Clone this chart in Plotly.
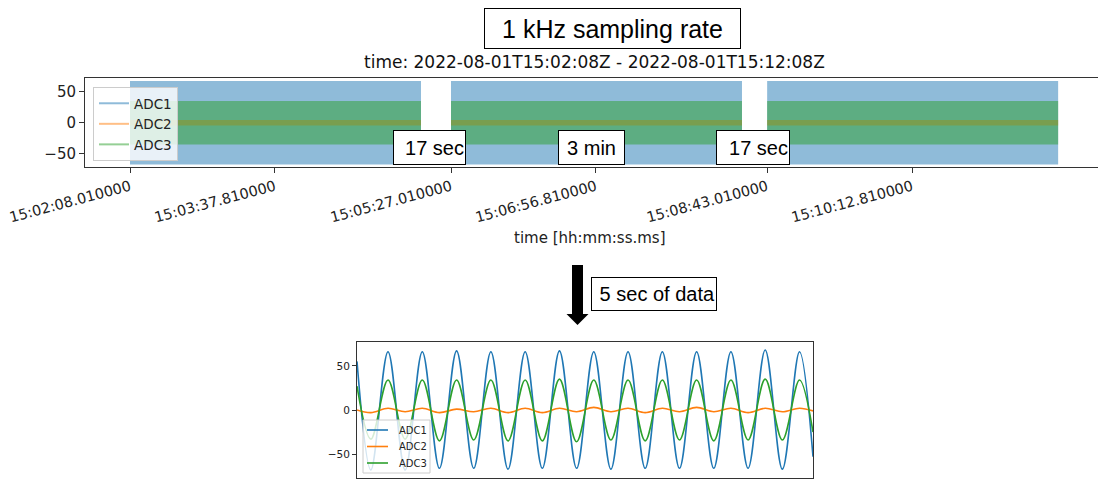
import plotly.graph_objects as go

# ---------------- data: overview (1 kHz recordings, drawn as their envelopes) ----------------
channels = ["ADC1", "ADC2", "ADC3"]
seg_start = ["2022-08-01 15:02:08.010", "2022-08-01 15:05:27.010", "2022-08-01 15:08:43.010"]
seg_end = ["2022-08-01 15:05:08.400", "2022-08-01 15:08:27.400", "2022-08-01 15:11:43.400"]
adc1_amp = [67, 67, 67]
adc2_amp = [4.5, 4.5, 4.5]
adc3_amp = [35, 35, 35]

tick_times = ["2022-08-01 15:02:08.010", "2022-08-01 15:03:37.810", "2022-08-01 15:05:27.010",
              "2022-08-01 15:06:56.810", "2022-08-01 15:08:43.010", "2022-08-01 15:10:12.810"]
tick_labels = ["15:02:08.010000", "15:03:37.810000", "15:05:27.010000",
               "15:06:56.810000", "15:08:43.010000", "15:10:12.810000"]
x_view = ["2022-08-01 15:01:40.110", "2022-08-01 15:12:08.110"]

gap_labels = ["17 sec", "3 min", "17 sec"]

# ---------------- data: zoom on 5 s of data (extrema) ----------------
t_small = [0.000, 0.152, 0.340, 0.528, 0.716, 0.904, 1.092, 1.280, 1.468, 1.656, 1.844, 2.032,
           2.220, 2.408, 2.596, 2.784, 2.972, 3.160, 3.348, 3.536, 3.724, 3.912, 4.100, 4.288,
           4.476, 4.664, 4.852, 5.000]
adc1_small = [55, -68, 66, -68, 66, -66, 67, -66, 66, -67, 66, -66, 67, -66, 66, -67, 66, -66,
              66, -66, 66, -66, 66, -66, 68, -67, 66, -53]
adc2_small = [0, -3, 2, -2, 2, -3, 1, -2, 2, -3, 2, -3, 2, -2, 3, -2, 2, -3, 2, -2, 3, -2, 2,
              -3, 2, -2, 2, -1]
adc3_small = [27, -33, 34, -33, 34, -35, 34, -34, 34, -35, 34, -35, 35, -36, 34, -34, 34, -35,
              34, -34, 34, -35, 34, -34, 35, -34, 34, -25]

# ---------------- layout helpers ----------------
W, H = 1098, 480
L = 85
PW = W - L


def px(x):
    return (x - L) / PW


def py(y):
    return 1 - y / H


rgb = {"ADC1": (31, 119, 180), "ADC2": (255, 127, 14), "ADC3": (44, 160, 44)}
DEJAVU = "DejaVu Sans"
ARIAL = "Liberation Sans, Arial"
AXC = "#333333"


def band(amps):
    xs, ys = [], []
    for s, e, a in zip(seg_start, seg_end, amps):
        xs += [s, e, e, s, s, None]
        ys += [-a, -a, a, a, -a, None]
    return xs, ys


fig = go.Figure()

for name, amps in zip(channels, [adc1_amp, adc2_amp, adc3_amp]):
    r, g, b = rgb[name]
    xs, ys = band(amps)
    fig.add_trace(go.Scatter(x=xs, y=ys, mode="lines", fill="toself",
                             fillcolor=f"rgba({r},{g},{b},0.5)",
                             line=dict(width=0, color="rgba(0,0,0,0)"),
                             showlegend=False, hoverinfo="skip", xaxis="x", yaxis="y"))
for name in channels:
    r, g, b = rgb[name]
    fig.add_trace(go.Scatter(x=[None], y=[None], mode="lines", name=name,
                             line=dict(color=f"rgba({r},{g},{b},0.5)", width=2),
                             xaxis="x", yaxis="y", legend="legend"))

for name, vals in zip(channels, [adc1_small, adc2_small, adc3_small]):
    r, g, b = rgb[name]
    fig.add_trace(go.Scatter(x=t_small, y=vals, mode="lines", name=name, showlegend=False,
                             line=dict(color=f"rgb({r},{g},{b})", width=1.6,
                                       shape="spline", smoothing=1),
                             xaxis="x2", yaxis="y2"))

annotations = [
    dict(text="1 kHz sampling rate", x=px(484), y=py(8), xanchor="left", yanchor="top",
         width=253, height=37, align="center", bordercolor="black", borderwidth=1, borderpad=1,
         bgcolor="white", font=dict(family=ARIAL, size=25, color="black")),
    dict(text="time: 2022-08-01T15:02:08Z - 2022-08-01T15:12:08Z", x=px(594.5), y=py(62),
         xanchor="center", yanchor="middle", font=dict(family=DEJAVU, size=17, color="#111")),
    dict(text="time [hh:mm:ss.ms]", x=px(590), y=py(238), xanchor="center", yanchor="middle",
         font=dict(family=DEJAVU, size=15, color="#222")),
    dict(text="5 sec of data", x=px(591), y=py(277), xanchor="left", yanchor="top",
         width=122, height=30, align="right", bordercolor="black", borderwidth=1, borderpad=1,
         bgcolor="white", font=dict(family=ARIAL, size=20, color="black")),
]
gap_boxes = [(393, 73, "right"), (558, 67, "center"), (716, 74, "right")]
for lab, (bx, bw, al) in zip(gap_labels, gap_boxes):
    annotations.append(dict(text=lab, x=px(bx), y=py(130), xanchor="left", yanchor="top",
                            width=bw - 4, height=31, align=al, bordercolor="black",
                            borderwidth=1, borderpad=1, bgcolor="white",
                            font=dict(family=ARIAL, size=20, color="black")))

shapes = [
    dict(type="rect", xref="paper", yref="paper", x0=px(572), x1=px(583), y0=py(315), y1=py(265),
         fillcolor="black", line=dict(width=0)),
    dict(type="path", xref="paper", yref="paper",
         path=f"M {px(566.5)},{py(314)} L {px(588.5)},{py(314)} L {px(577.5)},{py(325)} Z",
         fillcolor="black", line=dict(width=0)),
    # legend box of the 5-second panel
    dict(type="rect", xref="paper", yref="paper", x0=px(363), x1=px(430), y0=py(473), y1=py(420),
         fillcolor="rgba(255,255,255,0.8)", line=dict(color="#cccccc", width=1)),
]
for i, name in enumerate(channels):
    r, g, b = rgb[name]
    yy = 430 + 16.5 * i
    shapes.append(dict(type="line", xref="paper", yref="paper", x0=px(367), x1=px(388),
                       y0=py(yy), y1=py(yy), line=dict(color=f"rgb({r},{g},{b})", width=1.6)))
    annotations.append(dict(text=name, x=px(397), y=py(yy), xanchor="left", yanchor="middle",
                            font=dict(family=DEJAVU, size=10, color="#222")))

for a in annotations:
    a.update(xref="paper", yref="paper", showarrow=False)

axis_common = dict(showgrid=False, zeroline=False, showline=True, linecolor=AXC, linewidth=1,
                   ticks="outside", tickcolor=AXC, automargin=False)

fig.update_layout(
    width=W, height=H, margin=dict(l=L, r=0, t=0, b=0),
    paper_bgcolor="white", plot_bgcolor="white",
    xaxis=dict(**axis_common, domain=[0, 1], anchor="y", type="date", range=x_view,
               tickvals=tick_times, ticktext=tick_labels, tickangle=-15, ticklen=5,
               mirror=True, tickfont=dict(family=DEJAVU, size=14.5, color="#222")),
    yaxis=dict(**axis_common, domain=[py(167), py(78)], anchor="x", range=[-71, 72],
               tickvals=[-50, 0, 50], ticklen=5,
               tickfont=dict(family=DEJAVU, size=15, color="#222")),
    xaxis2=dict(showgrid=False, zeroline=False, showline=True, linecolor=AXC, linewidth=1,
                automargin=False, domain=[px(357), px(813)], anchor="y2", range=[0, 5],
                showticklabels=False, ticks="", mirror=True),
    yaxis2=dict(**axis_common, domain=[py(478), py(342)], anchor="x2", range=[-77, 77],
                tickvals=[-50, 0, 50], ticklen=4, mirror=True,
                tickfont=dict(family=DEJAVU, size=10.5, color="#222")),
    legend=dict(x=px(93), y=py(87), xanchor="left", yanchor="top",
                bgcolor="rgba(255,255,255,0.8)", bordercolor="#cccccc", borderwidth=1,
                font=dict(family=DEJAVU, size=13.5, color="#222")),
    annotations=annotations, shapes=shapes, showlegend=True,
)

fig.write_html("out.html")
